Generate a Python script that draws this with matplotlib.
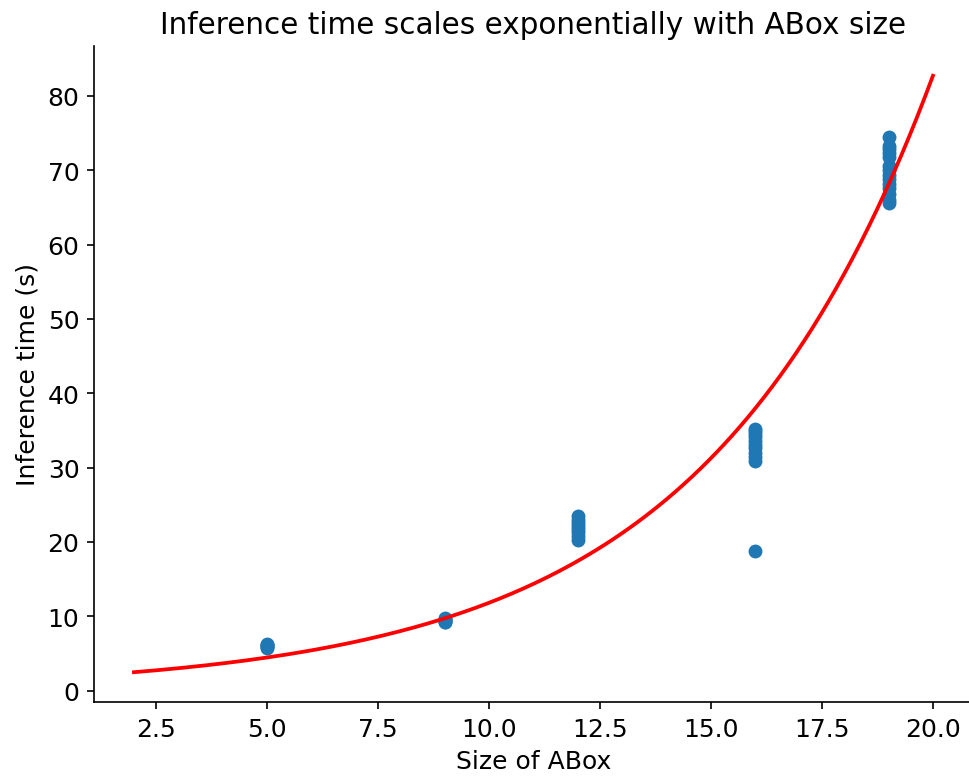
import numpy as np
import matplotlib.pyplot as plt

# tamanhos de ABox e tempos de inferencia medidos
abox_sizes = [5] * 6 + [9] * 6 + [12] * 8 + [16] * 11 + [19] * 14
inference_times = [
    5.8, 5.9, 6.0, 6.1, 6.2, 6.3,
    9.2, 9.3, 9.4, 9.5, 9.7, 9.8,
    20.3, 20.8, 21.3, 21.8, 22.2, 22.6, 23.0, 23.5,
    18.8, 30.9, 31.4, 32.0, 32.6, 33.1, 33.6, 34.1, 34.5, 34.9, 35.2,
    65.6, 66.0, 66.8, 67.6, 68.2, 68.8, 69.4, 70.0, 70.5, 71.8, 72.3, 72.8, 73.2, 74.4,
]

# parametros do ajuste exponencial y = a * exp(b * x)
fit_a = 1.694
fit_b = 0.1944
fit_range = (2, 20)

fig, ax = plt.subplots(figsize=(6.46, 5.213), dpi=150)
fig.subplots_adjust(left=0.097, right=1.004, top=0.94, bottom=0.101)

# pontos medidos
ax.scatter(abox_sizes, inference_times, color='#1f77b4', s=32, zorder=2)

# curva ajustada
x_fit = np.linspace(fit_range[0], fit_range[1], 200)
ax.plot(x_fit, fit_a * np.exp(fit_b * x_fit), color='red', linewidth=1.8, zorder=3)

# configurando o grafico
ax.set_title("Inference time scales exponentially with ABox size", fontsize=14.2)
ax.set_xlabel("Size of ABox", fontsize=12)
ax.set_ylabel("Inference time (s)", fontsize=12)
ax.tick_params(labelsize=12)
ax.spines['top'].set_visible(False)
ax.spines['right'].set_visible(False)

fig.savefig("out.png", dpi=150)
